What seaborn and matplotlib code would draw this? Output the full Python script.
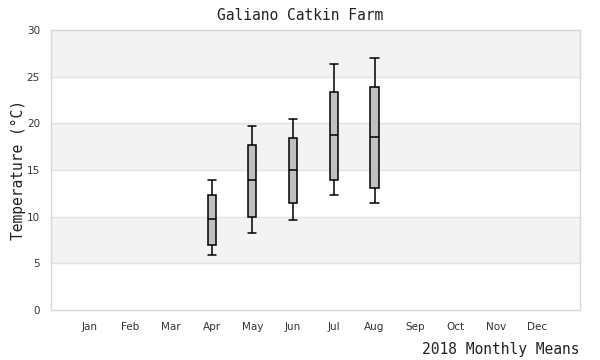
import numpy as np
import pandas as pd
import matplotlib
matplotlib.use("Agg")
import matplotlib.pyplot as plt
import seaborn as sns

months = ["Jan", "Feb", "Mar", "Apr", "May", "Jun", "Jul", "Aug", "Sep", "Oct", "Nov", "Dec"]
box_months = ["Apr", "May", "Jun", "Jul", "Aug"]
t_min = [5.9, 8.2, 9.6, 12.3, 11.5]
t_q1 = [7.0, 10.0, 11.5, 13.9, 13.1]
t_med = [9.7, 13.9, 15.0, 18.7, 18.5]
t_q3 = [12.3, 17.7, 18.4, 23.4, 23.9]
t_max = [13.9, 19.7, 20.5, 26.4, 27.0]

rows = []
for m, a, b, c, d, e in zip(box_months, t_min, t_q1, t_med, t_q3, t_max):
    for v in (a, b, c, d, e):
        rows.append({"month": m, "temp": v})
df = pd.DataFrame(rows)
df["month"] = pd.Categorical(df["month"], categories=months, ordered=True)

sns.set_theme(style="white")
fig = plt.figure(figsize=(6, 3.6), dpi=100)
ax = fig.add_axes([51/600, 1-310/360, 529/600, 280/360])

for lo in (0, 10, 20):
    ax.axhspan(lo + 5, lo + 10, color="#f3f3f3", zorder=0, lw=0)
for y in range(5, 30, 5):
    ax.axhline(y, color="#e2e2e2", lw=1, zorder=0.5)

n_before = len(ax.lines)
BW = 0.2
sns.boxplot(data=df, x="month", y="temp", order=months, whis=(0, 100),
            width=BW, color="#c0c0c0", saturation=1, ax=ax,
            linecolor="black", linewidth=1.1, showcaps=True,
            boxprops=dict(facecolor="#c0c0c0", edgecolor="black"),
            capprops=dict(color="black"), whiskerprops=dict(color="black"),
            medianprops=dict(color="black"))

# widen the caps to the full box width
for ln in ax.lines[n_before:]:
    xd = np.asarray(ln.get_xdata(), dtype=float)
    yd = np.asarray(ln.get_ydata(), dtype=float)
    if len(xd) == 2 and yd[0] == yd[1] and abs(xd[1] - xd[0]) < BW * 0.9:
        c = xd.mean()
        ln.set_xdata([c - BW / 2, c + BW / 2])

ax.set_xlim(-0.95, 12.05)
ax.set_ylim(0, 30)
ax.set_yticks(range(0, 31, 5))
for s in ax.spines.values():
    s.set_color("#d8d8d8")
    s.set_linewidth(1)
ax.tick_params(axis="both", length=0, colors="#333333", labelsize=7.5, pad=8)
ax.tick_params(axis="x", pad=9)

ax.set_xlabel("2018 Monthly Means", family="DejaVu Sans Mono", fontsize=10.5,
              color="#222222")
ax.xaxis.set_label_coords(1.0, -0.115)
ax.xaxis.label.set_horizontalalignment("right")
ax.set_ylabel("Temperature (°C)", family="DejaVu Sans Mono", fontsize=10.5,
              color="#222222")
ax.yaxis.set_label_coords(-0.047, 0.5)
fig.text(300/600, 1-15/360, "Galiano Catkin Farm", family="DejaVu Sans Mono",
         fontsize=10.5, color="#222222", ha="center", va="center")

fig.savefig("out.png", dpi=100)
